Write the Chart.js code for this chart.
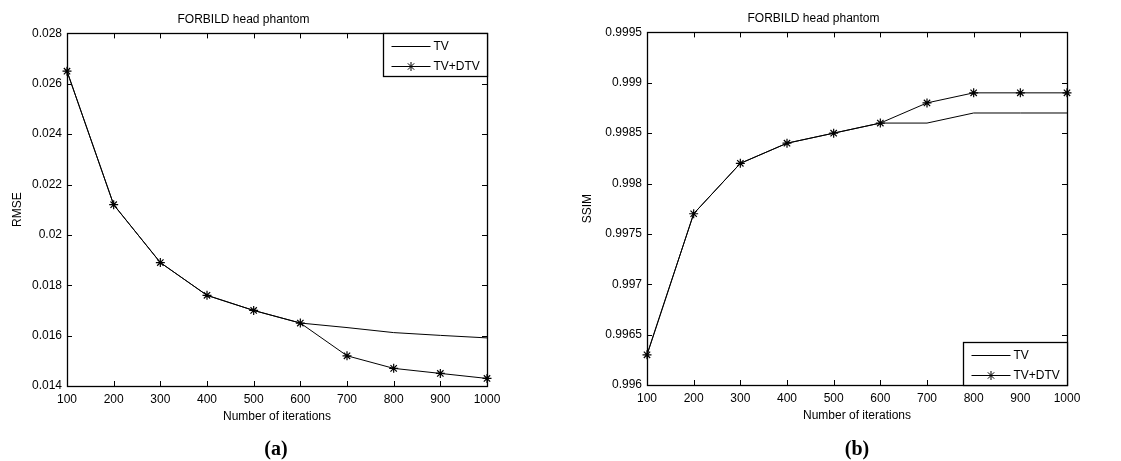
<!DOCTYPE html>
<html lang="en">
<head>
    <meta charset="UTF-8">
    <title>FORBILD head phantom - RMSE / SSIM</title>
    <script src="https://cdn.jsdelivr.net/npm/chart.js"></script>
    <style>
        body {
            margin: 0;
            padding: 0;
            background: white;
        }
        #wrap {
            position: relative;
            width: 1121px;
            height: 461px;
            font-family: "Liberation Sans", Arial, sans-serif;
        }
        canvas {
            position: absolute;
            top: 0;
        }
        #rmseChart { left: 0; }
        #ssimChart { left: 560px; }
        .caption {
            position: absolute;
            top: 436px;
            font-family: "Liberation Serif", "Times New Roman", serif;
            font-weight: bold;
            font-size: 20px;
            line-height: 24px;
            width: 60px;
            text-align: center;
        }
    </style>
</head>
<body>

<div id="wrap">
    <canvas id="rmseChart" width="560" height="461"></canvas>
    <canvas id="ssimChart" width="561" height="461"></canvas>
    <div class="caption" style="left:246px">(a)</div>
    <div class="caption" style="left:827px">(b)</div>
</div>

<script>
    const iterations = [100, 200, 300, 400, 500, 600, 700, 800, 900, 1000];

    const rmseTV    = [0.0265, 0.0212, 0.0189, 0.0176, 0.0170, 0.0165, 0.01632, 0.01612, 0.01601, 0.01591];
    const rmseTVDTV = [0.0265, 0.0212, 0.0189, 0.0176, 0.0170, 0.0165, 0.0152, 0.0147, 0.0145, 0.0143];

    const ssimTV    = [0.9963, 0.9977, 0.9982, 0.9984, 0.9985, 0.9986, 0.9986, 0.9987, 0.9987, 0.9987];
    const ssimTVDTV = [0.9963, 0.9977, 0.9982, 0.9984, 0.9985, 0.9986, 0.9988, 0.9989, 0.9989, 0.9989];

    const xTicks    = [100, 200, 300, 400, 500, 600, 700, 800, 900, 1000];
    const rmseTicks = [0.014, 0.016, 0.018, 0.02, 0.022, 0.024, 0.026, 0.028];
    const ssimTicks = [0.996, 0.9965, 0.997, 0.9975, 0.998, 0.9985, 0.999, 0.9995];

    const FONT = '"Liberation Sans", Arial, sans-serif';

    // matlab style frame: closed box with inward ticks on all four sides,
    // plus a boxed legend sitting inside the plot area
    const matlabFrame = {
        id: 'matlabFrame',
        afterDatasetsDraw(chart, args, opts) {
            const ctx = chart.ctx;
            const area = chart.chartArea;
            const xs = chart.scales.x, ys = chart.scales.y;
            const len = 5;
            ctx.save();
            ctx.strokeStyle = '#000';
            ctx.lineWidth = 1;
            ctx.beginPath();
            xs.ticks.forEach(t => {
                const px = Math.round(xs.getPixelForValue(t.value)) + 0.5;
                ctx.moveTo(px, area.bottom); ctx.lineTo(px, area.bottom - len);
                ctx.moveTo(px, area.top); ctx.lineTo(px, area.top + len);
            });
            ys.ticks.forEach(t => {
                const py = Math.round(ys.getPixelForValue(t.value)) + 0.5;
                ctx.moveTo(area.left, py); ctx.lineTo(area.left + len, py);
                ctx.moveTo(area.right, py); ctx.lineTo(area.right - len, py);
            });
            ctx.stroke();
            ctx.lineWidth = 1.3;
            ctx.strokeRect(Math.round(area.left) + 0.5, Math.round(area.top) + 0.5,
                Math.round(area.right - area.left), Math.round(area.bottom - area.top));

            // legend box
            const w = 104, h = 43;
            const bx = Math.round(area.right) - w + 0.5;
            const by = opts.corner === 'bottom' ? Math.round(area.bottom) - h + 0.5 : Math.round(area.top) + 0.5;
            ctx.fillStyle = '#fff';
            ctx.fillRect(bx, by, w, h);
            ctx.lineWidth = 1.3;
            ctx.strokeRect(bx, by, w, h);
            ctx.font = '12px ' + FONT;
            ctx.textBaseline = 'middle';
            chart.data.datasets.forEach((ds, i) => {
                const ry = by + 13 + i * 20;
                ctx.strokeStyle = ds.borderColor;
                ctx.lineWidth = 1;
                ctx.beginPath();
                ctx.moveTo(bx + 8, ry); ctx.lineTo(bx + 47, ry);
                ctx.stroke();
                if (ds.pointRadius > 0) {
                    Chart.helpers.drawPoint(ctx, {
                        pointStyle: ds.pointStyle, radius: ds.pointRadius,
                        borderWidth: 1.2, rotation: 0
                    }, bx + 27.5, ry);
                }
                ctx.fillStyle = '#000';
                ctx.fillText(ds.label, bx + 50, ry + 0.5);
            });
            ctx.restore();
        }
    };

    function makeChart(canvasId, yValuesTV, yValuesDTV, yTicks, yTitle, cfg) {
        const ctx = document.getElementById(canvasId).getContext('2d');
        return new Chart(ctx, {
            type: 'line',
            data: {
                datasets: [{
                    label: 'TV',
                    data: iterations.map((x, i) => ({x: x, y: yValuesTV[i]})),
                    borderColor: '#000',
                    borderWidth: 1,
                    pointRadius: 0,
                    tension: 0,
                    clip: 8
                }, {
                    label: 'TV+DTV',
                    data: iterations.map((x, i) => ({x: x, y: yValuesDTV[i]})),
                    borderColor: '#000',
                    borderWidth: 1,
                    pointStyle: 'star',
                    pointRadius: 4.5,
                    pointBorderColor: '#000',
                    pointBorderWidth: 1.2,
                    tension: 0,
                    clip: 8
                }]
            },
            options: {
                responsive: false,
                maintainAspectRatio: false,
                animation: false,
                layout: {
                    padding: {left: 0, right: cfg.right, top: 0, bottom: cfg.bottom}
                },
                scales: {
                    x: {
                        type: 'linear',
                        min: 100,
                        max: 1000,
                        afterBuildTicks: s => { s.ticks = xTicks.map(v => ({value: v})); },
                        afterFit: s => { s.height = 40; },
                        grid: {display: false, drawTicks: false},
                        border: {display: false},
                        ticks: {
                            color: '#000',
                            padding: 6,
                            maxRotation: 0,
                            autoSkip: false,
                            font: {family: FONT, size: 12},
                            callback: v => String(v)
                        },
                        title: {
                            display: true,
                            text: 'Number of iterations',
                            color: '#000',
                            padding: {top: 0, bottom: 2},
                            font: {family: FONT, size: 12}
                        }
                    },
                    y: {
                        type: 'linear',
                        min: yTicks[0],
                        max: yTicks[yTicks.length - 1],
                        afterBuildTicks: s => { s.ticks = yTicks.map(v => ({value: v})); },
                        afterFit: s => { s.width = cfg.left; },
                        grid: {display: false, drawTicks: false},
                        border: {display: false},
                        ticks: {
                            color: '#000',
                            padding: 5,
                            autoSkip: false,
                            font: {family: FONT, size: 12},
                            callback: v => String(Number(v.toFixed(4)))
                        },
                        title: {
                            display: true,
                            text: yTitle,
                            color: '#000',
                            padding: {top: cfg.yTitlePad, bottom: 0},
                            font: {family: FONT, size: 12}
                        }
                    }
                },
                plugins: {
                    legend: {display: false},
                    tooltip: {enabled: false},
                    title: {
                        display: true,
                        text: 'FORBILD head phantom',
                        color: '#000',
                        font: {family: FONT, size: 12, weight: 'normal'},
                        padding: {top: cfg.titleTop, bottom: 7}
                    },
                    matlabFrame: {corner: cfg.corner}
                }
            },
            plugins: [matlabFrame]
        });
    }

    makeChart('rmseChart', rmseTV, rmseTVDTV, rmseTicks, 'RMSE',
        {left: 67, right: 73, bottom: 35, yTitlePad: 10, titleTop: 12, corner: 'top'});
    makeChart('ssimChart', ssimTV, ssimTVDTV, ssimTicks, 'SSIM',
        {left: 87, right: 54, bottom: 36, yTitlePad: 20, titleTop: 11, corner: 'bottom'});
</script>

</body>
</html>
